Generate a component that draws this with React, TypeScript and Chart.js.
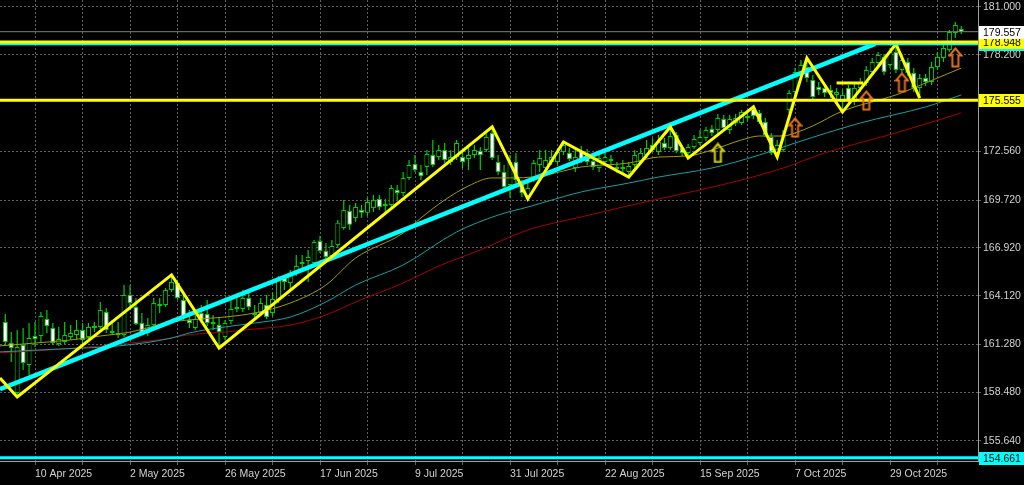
import React, { useEffect, useRef } from 'react';
import { Chart, registerables } from 'chart.js';

Chart.register(...registerables);

// ---- Candles (EURJPY daily, bar index 0 = 3 Apr 2025) ----
const opens = [
  162.59, 161.36, 158.44, 161.25, 160.08, 161.77, 161.77, 162.76, 162.24, 161.31,
  161.42, 161.71, 161.83, 162.12, 161.71, 162.24, 162.30, 163.17, 161.95, 161.95,
  161.83, 164.17, 163.47, 162.53, 161.95, 162.41, 163.64, 163.58, 164.46, 164.87,
  163.88, 162.71, 162.24, 163.12, 163.06, 162.59, 162.41, 161.71, 162.65, 163.35,
  163.35, 163.99, 163.00, 163.12, 163.58, 163.12, 163.88, 165.16, 164.87, 165.45,
  166.10, 166.15, 166.04, 167.32, 166.74, 166.45, 167.09, 168.09, 169.08, 168.67,
  169.14, 168.97, 169.25, 169.78, 169.37, 169.43, 170.31, 170.13, 171.01, 171.82,
  171.36, 171.65, 172.35, 172.23, 172.64, 171.94, 172.23, 172.23, 172.12, 172.35,
  172.58, 172.64, 173.64, 171.94, 171.36, 170.60, 171.94, 170.60, 169.95, 171.01,
  171.77, 171.59, 171.94, 171.94, 172.53, 172.47, 171.59, 172.58, 172.47, 172.00,
  171.59, 171.94, 172.06, 171.65, 171.65, 171.36, 171.77, 171.94, 172.35, 172.93,
  172.53, 173.05, 172.76, 173.52, 172.76, 172.47, 172.82, 173.05, 173.34, 173.87,
  173.81, 174.45, 173.81, 174.22, 174.22, 174.63, 175.04, 174.81, 174.28, 173.40,
  172.47, 172.64, 174.98, 176.03, 177.14, 177.49, 176.73, 176.32, 176.27, 176.15,
  175.86, 175.45, 176.27, 175.45, 176.27, 176.56, 177.20, 177.73, 178.08, 177.61,
  178.37, 177.32, 177.79, 177.14, 176.27, 176.85, 176.62, 177.49, 178.02, 178.49,
  179.48, 179.72,
];
const highs = [
  163.06, 162.01, 162.12, 162.24, 162.53, 162.59, 163.17, 163.29, 162.53, 162.30,
  162.59, 162.41, 162.71, 162.53, 162.53, 162.59, 163.76, 163.41, 162.71, 162.59,
  164.75, 164.75, 163.99, 163.12, 162.82, 163.99, 163.99, 164.58, 165.34, 165.05,
  164.17, 163.29, 163.00, 163.58, 163.88, 163.00, 162.82, 162.71, 163.88, 164.11,
  164.46, 164.34, 163.58, 163.99, 164.17, 164.34, 165.28, 165.34, 165.63, 166.51,
  166.51, 166.80, 167.38, 167.63, 167.21, 167.38, 168.55, 169.72, 169.43, 169.55,
  169.43, 169.84, 170.01, 170.01, 169.78, 170.60, 170.60, 171.36, 172.06, 172.35,
  171.77, 172.64, 173.23, 172.93, 173.05, 172.64, 173.23, 172.64, 172.93, 172.93,
  172.82, 173.64, 173.99, 172.35, 171.77, 172.35, 172.47, 170.89, 170.71, 172.06,
  172.64, 172.64, 172.64, 172.76, 173.11, 172.76, 172.64, 172.88, 172.70, 172.35,
  172.53, 172.64, 172.35, 171.94, 172.06, 171.94, 172.64, 172.76, 173.23, 173.34,
  173.52, 173.34, 173.99, 173.69, 172.93, 172.99, 173.52, 173.81, 173.99, 174.10,
  174.75, 174.69, 174.69, 174.75, 174.98, 174.86, 175.16, 174.98, 174.51, 173.64,
  173.23, 173.81, 176.15, 177.43, 177.90, 178.02, 177.03, 176.62, 176.50, 176.44,
  176.27, 176.15, 176.44, 176.50, 176.85, 177.55, 178.02, 178.37, 178.25, 178.60,
  178.84, 178.25, 178.02, 177.43, 177.08, 177.08, 177.79, 178.37, 178.78, 179.66,
  180.12, 179.89,
];
const lows = [
  161.25, 160.25, 158.21, 159.78, 159.49, 161.13, 161.42, 161.95, 161.25, 161.19,
  161.31, 161.54, 161.54, 161.19, 161.60, 162.01, 162.18, 161.95, 161.83, 161.66,
  161.71, 163.29, 162.41, 161.83, 161.77, 162.30, 163.12, 163.47, 164.34, 163.88,
  162.71, 162.24, 162.12, 162.53, 162.36, 162.12, 161.07, 161.54, 162.47, 163.17,
  163.17, 163.29, 162.82, 162.94, 162.76, 162.94, 163.70, 164.46, 164.46, 165.28,
  165.63, 164.93, 165.92, 166.62, 166.21, 166.27, 166.92, 167.98, 167.98, 168.45,
  168.67, 168.79, 169.02, 169.14, 168.91, 169.31, 169.72, 169.95, 170.89, 171.36,
  170.89, 171.18, 171.65, 172.06, 171.88, 171.77, 172.06, 171.59, 171.47, 172.17,
  171.47, 172.53, 172.06, 171.18, 170.31, 169.84, 170.71, 169.90, 169.78, 170.77,
  171.36, 171.47, 171.77, 171.77, 172.35, 172.00, 171.36, 171.88, 171.77, 171.47,
  171.36, 171.77, 171.71, 171.30, 171.18, 171.06, 171.59, 171.82, 172.17, 172.53,
  172.35, 172.64, 172.64, 172.47, 172.29, 172.17, 172.70, 172.93, 173.17, 173.46,
  173.64, 173.75, 173.58, 174.05, 174.10, 174.28, 174.45, 174.16, 173.40, 172.35,
  172.23, 172.53, 174.81, 175.86, 176.97, 176.62, 175.56, 175.86, 175.74, 175.68,
  175.56, 174.86, 175.33, 175.27, 176.03, 176.38, 177.03, 177.55, 177.03, 177.43,
  177.14, 177.14, 176.97, 176.03, 175.68, 176.38, 176.44, 177.32, 177.79, 178.37,
  179.19, 179.42,
];
const closes = [
  161.42, 161.07, 161.13, 160.19, 161.66, 161.60, 162.94, 162.36, 161.36, 161.60,
  161.83, 161.95, 162.12, 161.54, 162.30, 162.36, 163.29, 162.12, 162.06, 161.83,
  164.17, 163.70, 162.47, 161.95, 162.41, 163.70, 163.52, 164.46, 164.93, 163.99,
  162.88, 162.53, 162.76, 162.71, 162.53, 162.47, 162.01, 162.53, 163.35, 163.47,
  163.99, 163.47, 163.12, 163.70, 162.88, 163.93, 165.16, 164.93, 165.45, 165.86,
  165.98, 166.39, 167.27, 166.74, 166.39, 167.03, 168.39, 169.14, 168.27, 169.31,
  168.97, 169.60, 169.72, 169.31, 169.49, 170.42, 170.13, 171.01, 171.77, 171.47,
  171.12, 172.41, 171.77, 172.64, 172.06, 172.23, 173.05, 171.94, 172.35, 172.64,
  172.35, 173.40, 172.17, 171.36, 170.48, 171.94, 170.89, 170.13, 170.42, 171.88,
  172.17, 172.06, 172.23, 172.53, 172.93, 172.12, 172.23, 172.06, 171.94, 171.65,
  172.17, 172.23, 172.00, 171.53, 171.53, 171.71, 172.35, 172.47, 172.76, 172.64,
  173.11, 172.76, 173.46, 172.58, 172.47, 172.82, 173.29, 173.40, 173.81, 173.64,
  174.51, 173.93, 174.45, 174.51, 174.86, 174.51, 174.63, 174.28, 173.52, 172.47,
  172.93, 173.52, 175.97, 177.20, 177.61, 176.85, 175.74, 176.15, 175.97, 175.97,
  176.03, 175.86, 175.56, 176.27, 176.56, 177.32, 177.79, 178.20, 177.20, 178.37,
  177.32, 177.90, 177.14, 176.27, 176.85, 176.62, 177.49, 178.08, 178.60, 179.54,
  179.95, 179.557,
];

// ---- Axis ticks ----
const dateTickIdx = [5, 21, 37, 53, 69, 85, 101, 117, 133, 149];
const dateTickLabels = [
  '10 Apr 2025', '2 May 2025', '26 May 2025', '17 Jun 2025', '9 Jul 2025',
  '31 Jul 2025', '22 Aug 2025', '15 Sep 2025', '7 Oct 2025', '29 Oct 2025',
];
const gridIdx = [5, 13, 21, 29, 37, 45, 53, 61, 69, 77, 85, 93, 101, 109, 117, 125, 133, 141, 149, 157];
const priceTicks = [181.0, 178.2, 172.56, 169.72, 166.92, 164.12, 161.28, 158.48, 155.64];

// ---- Moving averages ----
const maFastIdx = [-1, 5, 11, 16, 21, 28, 33, 37, 42, 48, 54, 59, 67, 70, 74, 78, 82, 86, 91, 97, 105, 110, 115, 119, 124, 127, 131, 133, 136, 141, 150, 155, 161];
const maFastVal = [161.19, 161.36, 161.54, 161.77, 162.0, 162.59, 162.77, 162.88, 163.12, 163.7, 164.75, 166.33, 167.79, 168.67, 169.72, 170.54, 171.01, 171.01, 171.18, 171.65, 171.88, 172.23, 172.29, 172.64, 173.23, 173.46, 173.46, 173.64, 174.05, 174.92, 175.86, 176.56, 177.43];
const maMidIdx = [-1, 9, 19, 28, 31, 37, 42, 48, 54, 59, 67, 76, 83, 88, 97, 105, 110, 119, 127, 133, 144, 155, 161];
const maMidVal = [160.84, 161.01, 161.19, 161.65, 161.95, 162.3, 162.53, 162.88, 163.76, 164.75, 165.92, 167.85, 168.84, 169.31, 170.19, 170.71, 171.06, 171.59, 172.35, 173.05, 174.22, 175.16, 175.86];
const maSlowIdx = [-1, 10, 21, 27, 31, 37, 42, 48, 54, 59, 67, 73, 80, 88, 97, 104, 110, 117, 124, 131, 138, 150, 161];
const maSlowVal = [160.78, 161.01, 161.36, 161.6, 161.85, 162.0, 162.18, 162.41, 163.0, 163.76, 164.87, 165.86, 166.8, 167.97, 168.73, 169.31, 169.78, 170.31, 170.89, 171.59, 172.47, 173.64, 174.81];

// ---- Drawn objects ----
const zigzagIdx = [-0.9, 2, 28, 36, 82, 88, 94, 105, 112, 115, 126, 130, 135, 141, 150, 154];
const zigzagVal = [159.32, 158.21, 165.34, 161.07, 173.99, 169.78, 173.11, 171.06, 173.99, 172.17, 175.16, 172.23, 178.02, 174.86, 178.84, 175.68];
const trendIdx = [-0.9, 146.5];
const trendVal = [158.67, 178.85];
const yellowLevels = [178.948, 175.555];
const cyanLevels = [178.85, 154.661];
const bidPrice = 179.557;
const boxIdx = [140, 144.5];
const boxLevel = 176.56;
const orangeArrowIdx = [133, 145, 151, 160];
const orangeArrowVal = [173.96, 175.53, 176.59, 178.05];
const yellowArrowIdx = [120];
const yellowArrowVal = [172.47];

const X_MIN = -0.8947;
const X_MAX = 163.82;
const Y_MIN = 154.466;
const Y_MAX = 181.409;

const GREEN = '#00d000';
const FONT = "'Liberation Sans', Arial, sans-serif";
const TEXT = '#d2d2d2';
const GRID = '#5f5f5f';

function makeArrow(color: string) {
  const c = document.createElement('canvas');
  c.width = 15;
  c.height = 21;
  const g = c.getContext('2d')!;
  g.strokeStyle = color;
  g.lineWidth = 2;
  g.beginPath();
  g.moveTo(7.5, 1.5);
  g.lineTo(13.5, 8.5);
  g.lineTo(10.5, 8.5);
  g.lineTo(10.5, 19.5);
  g.lineTo(4.5, 19.5);
  g.lineTo(4.5, 8.5);
  g.lineTo(1.5, 8.5);
  g.closePath();
  g.stroke();
  return c;
}

const pts = (xs: number[], ys: number[]) => xs.map((x, i) => ({ x, y: ys[i] }));
const hline = (v: number) => [{ x: X_MIN, y: v }, { x: X_MAX, y: v }];

export default function App() {
  const ref = useRef<HTMLCanvasElement>(null);

  useEffect(() => {
    document.body.style.margin = '0';
    document.body.style.background = '#000';
    document.body.style.overflow = 'hidden';
    const canvas = ref.current!;

    const bgPlugin = {
      id: 'bg',
      beforeDraw(chart: any) {
        const ctx = chart.ctx;
        ctx.save();
        ctx.fillStyle = '#000';
        ctx.fillRect(0, 0, chart.width, chart.height);
        ctx.restore();
      },
    };

    const priceLabels = {
      id: 'priceLabels',
      afterDraw(chart: any) {
        const ctx = chart.ctx;
        const ys = chart.scales.y;
        const right = chart.chartArea.right;
        const box = (v: number, bg: string) => {
          const py = Math.round(ys.getPixelForValue(v));
          ctx.fillStyle = bg;
          ctx.fillRect(right + 1, py - 6, chart.width - right - 1, 13);
          ctx.fillStyle = '#000';
          ctx.font = `10.5px ${FONT}`;
          ctx.textBaseline = 'middle';
          ctx.textAlign = 'left';
          ctx.fillText(v.toFixed(3), right + 5, py + 1);
        };
        ctx.save();
        box(cyanLevels[0], '#00ffff');
        box(yellowLevels[0], '#ffff00');
        box(yellowLevels[1], '#ffff00');
        box(cyanLevels[1], '#00ffff');
        box(bidPrice, '#ffffff');
        ctx.restore();
      },
    };

    const orangeArrow = makeArrow('#e0701a');
    const yellowArrow = makeArrow('#d8d800');

    const chart = new Chart(canvas, {
      type: 'bar',
      data: {
        datasets: [
          {
            type: 'line', data: pts(orangeArrowIdx, orangeArrowVal), showLine: false,
            pointStyle: orangeArrow as any, pointRadius: 5, order: 0,
          } as any,
          {
            type: 'line', data: pts(yellowArrowIdx, yellowArrowVal), showLine: false,
            pointStyle: yellowArrow as any, pointRadius: 5, order: 0,
          } as any,
          {
            type: 'line', data: [{ x: boxIdx[0], y: boxLevel }, { x: boxIdx[1], y: boxLevel }],
            borderColor: '#ffff00', borderWidth: 3, pointRadius: 0, order: 1,
          },
          {
            type: 'line', data: hline(yellowLevels[0]), borderColor: '#ffff00', borderWidth: 3, pointRadius: 0, order: 2,
          },
          {
            type: 'line', data: hline(yellowLevels[1]), borderColor: '#ffff00', borderWidth: 3, pointRadius: 0, order: 2,
          },
          {
            type: 'line', data: hline(cyanLevels[0]), borderColor: '#00ffff', borderWidth: 3, pointRadius: 0, order: 3,
          },
          {
            type: 'line', data: hline(cyanLevels[1]), borderColor: '#00ffff', borderWidth: 3, pointRadius: 0, order: 3,
          },
          {
            type: 'line', data: hline(bidPrice), borderColor: '#808080', borderWidth: 1, pointRadius: 0, order: 3,
          },
          {
            type: 'line', data: pts(zigzagIdx, zigzagVal), borderColor: '#ffff00', borderWidth: 3,
            pointRadius: 0, order: 4, borderJoinStyle: 'miter',
          },
          {
            type: 'line', data: pts(trendIdx, trendVal), borderColor: '#00ffff', borderWidth: 4.5,
            pointRadius: 0, order: 5,
          },
          {
            type: 'line', data: pts(maFastIdx, maFastVal), borderColor: '#a39a00', borderWidth: 1,
            pointRadius: 0, order: 10, cubicInterpolationMode: 'monotone',
          },
          {
            type: 'line', data: pts(maMidIdx, maMidVal), borderColor: '#17a0a3', borderWidth: 1,
            pointRadius: 0, order: 11, cubicInterpolationMode: 'monotone',
          },
          {
            type: 'line', data: pts(maSlowIdx, maSlowVal), borderColor: '#a80000', borderWidth: 1,
            pointRadius: 0, order: 12, cubicInterpolationMode: 'monotone',
          },
          {
            type: 'bar',
            data: opens.map((o, i) => ({ x: i, y: [o, closes[i]] })) as any,
            backgroundColor: opens.map((o, i) => (closes[i] < o ? '#ffffff' : '#000000')),
            borderColor: GREEN, borderWidth: 1, borderSkipped: false,
            barThickness: 5, grouped: false, minBarLength: 2, inflateAmount: 0, order: 15,
          } as any,
          {
            type: 'bar',
            data: highs.map((h, i) => ({ x: i, y: [lows[i], h] })) as any,
            backgroundColor: GREEN, borderWidth: 0, barThickness: 1.2, grouped: false,
            inflateAmount: 0, order: 16,
          } as any,
        ],
      },
      options: {
        animation: false,
        responsive: false,
        devicePixelRatio: 1,
        events: [],
        layout: { padding: 0, autoPadding: false },
        plugins: { legend: { display: false }, tooltip: { enabled: false } },
        scales: {
          x: {
            type: 'linear', min: X_MIN, max: X_MAX, offset: false,
            afterBuildTicks: (s: any) => { s.ticks = gridIdx.map((v) => ({ value: v })); },
            afterFit: (s: any) => { s.height = 24; s.paddingLeft = 0; s.paddingRight = 0; },
            ticks: {
              autoSkip: false, maxRotation: 0, minRotation: 0, align: 'start', padding: 3,
              color: TEXT, font: { family: FONT, size: 10.5 },
              callback: (v: any) => {
                const k = dateTickIdx.indexOf(Number(v));
                return k >= 0 ? dateTickLabels[k] : '';
              },
            },
            grid: { color: GRID, lineWidth: 1, offset: false, drawTicks: true, tickLength: 4 },
            border: { display: true, color: '#a0a0a0', width: 1, dash: [2, 2] },
          } as any,
          y: {
            type: 'linear', position: 'right', min: Y_MIN, max: Y_MAX, beginAtZero: false,
            afterBuildTicks: (s: any) => { s.ticks = priceTicks.map((v) => ({ value: v })); },
            afterFit: (s: any) => { s.width = 46; s.paddingTop = 0; s.paddingBottom = 0; },
            ticks: {
              autoSkip: false, padding: 2, color: TEXT, font: { family: FONT, size: 10.5 },
              callback: (v: any) => Number(v).toFixed(3),
            },
            grid: { color: GRID, lineWidth: 1, drawTicks: true, tickLength: 3 },
            border: { display: true, color: '#a0a0a0', width: 1, dash: [2, 2] },
          } as any,
        },
      },
      plugins: [bgPlugin, priceLabels],
    } as any);

    return () => chart.destroy();
  }, []);

  return (
    <div style={{ width: 1024, height: 485, background: '#000' }}>
      <canvas ref={ref} width={1024} height={485} style={{ display: 'block', width: 1024, height: 485 }} />
    </div>
  );
}
